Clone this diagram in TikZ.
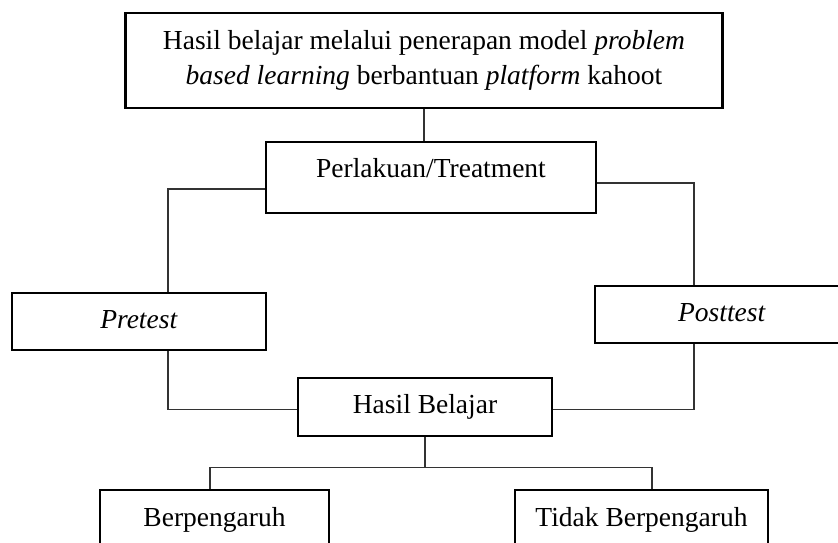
\documentclass[tikz,border=0pt]{standalone}
\usepackage{fontspec}
\setmainfont{Liberation Serif}
\begin{document}
\begin{tikzpicture}[x=1pt,y=-1pt,
  box/.style={draw=black, line width=2.6pt, rectangle, inner sep=0pt, align=center,
    font=\fontsize{27.5}{35}\selectfont},
  onel/.style={text height=19pt, text depth=6pt},
  conn/.style={draw=black!80, line width=1.3pt}]
\useasboundingbox (0,0) rectangle (838,542);
\clip (0,0) rectangle (838,542);

\node[box, minimum width=597pt, minimum height=95pt] (top) at (424,60.5)
  {Hasil belajar melalui penerapan model \textit{problem}\\\textit{based learning} berbantuan \textit{platform} kahoot};
\node[box, onel, text depth=20pt, minimum width=330pt, minimum height=71pt] (perl) at (431,177.5) {Perlakuan/Treatment};
\node[box, onel, minimum width=254pt, minimum height=57pt] (pre) at (139,321.5) {\textit{Pretest}};
\node[box, onel, minimum width=254pt, minimum height=57pt] (post) at (722,314.5) {\textit{Posttest}};
\node[box, onel, minimum width=254pt, minimum height=58pt] (hb) at (425,407) {Hasil Belajar};
\node[box, onel, minimum width=229pt, minimum height=60pt] (ber) at (214.5,520) {Berpengaruh};
\node[box, onel, minimum width=253pt, minimum height=60pt] (tid) at (641.5,520) {Tidak Berpengaruh};

\coordinate (xl) at (168,0);
\coordinate (xr) at (694,0);
\draw[conn] (top.south) -- (top.south |- perl.north);
\draw[conn] ([yshift=-11.5pt]perl.west) -| (xl |- pre.north);
\draw[conn] ([yshift=-5.5pt]perl.east) -| (xr |- post.north);
\draw[conn] (xl |- pre.south) |- ([yshift=-2.5pt]hb.west);
\draw[conn] (xr |- post.south) |- ([yshift=-2.5pt]hb.east);
\draw[conn] (hb.south) -- ++(0,30) coordinate (mid);
\draw[conn] ([xshift=-4.5pt]ber.north) |- (mid) -| ([xshift=10.5pt]tid.north);
\end{tikzpicture}
\end{document}
